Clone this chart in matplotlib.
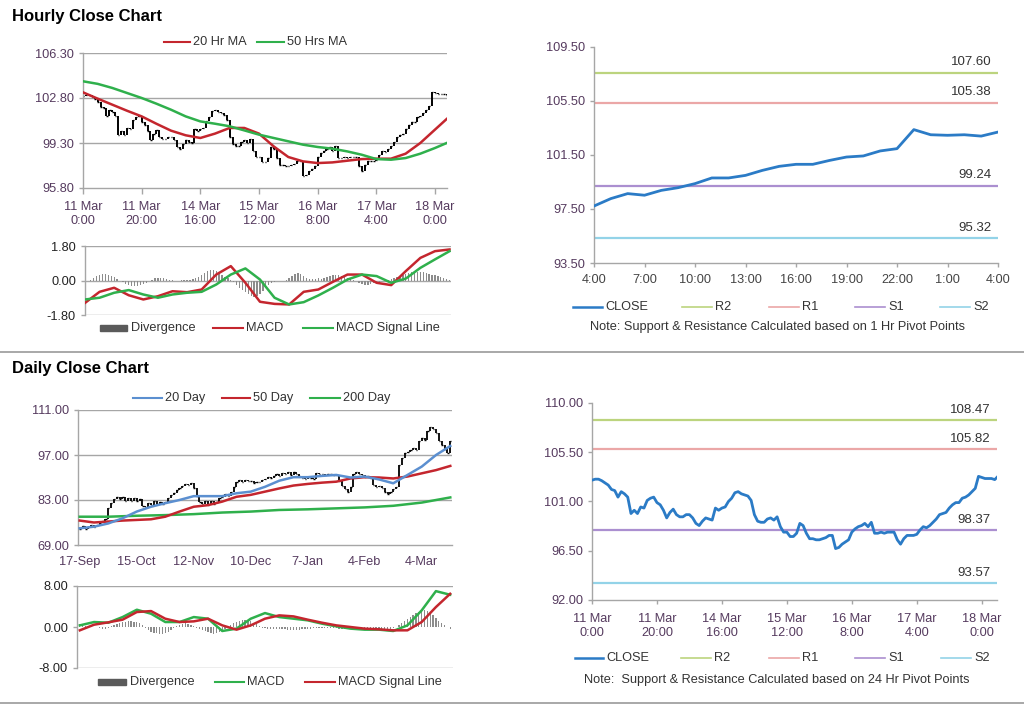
import matplotlib
matplotlib.use("Agg")
import matplotlib.pyplot as plt
import numpy as np
from matplotlib.lines import Line2D
from matplotlib.patches import Rectangle

plt.rcParams["font.family"] = ["Liberation Sans", "DejaVu Sans"]

# ── hourly data (11 Mar 0:00 .. 18 Mar) ─────────────────────────────────────
h_close = [
    102.95, 103.04, 103.04, 102.9, 102.7, 102.5, 102.1, 102.0, 101.4, 101.9,
    101.7, 101.4, 99.9, 100.2, 99.9, 100.5, 100.4, 101.1, 101.3, 101.4,
    100.9, 100.7, 100.2, 99.5, 100.0, 100.3, 99.8, 99.6, 99.6, 99.8,
    99.8, 99.5, 99.0, 98.8, 99.2, 99.5, 99.4, 99.3, 100.4, 100.2,
    100.4, 100.5, 101.0, 101.3, 101.8, 101.9, 101.7, 101.6, 101.5, 101.1,
    99.8, 99.2, 99.1, 99.1, 99.4, 99.5, 99.3, 99.6, 98.7, 98.2,
    98.2, 97.8, 97.8, 98.1, 99.0, 98.8, 98.1, 97.6, 97.6, 97.5,
    97.5, 97.6, 97.7, 97.9, 97.9, 96.7, 96.8, 97.1, 97.3, 97.5,
    98.2, 98.5, 98.7, 98.8, 99.0, 98.7, 99.1, 98.1, 98.1, 98.2,
    98.1, 98.2, 98.2, 98.2, 97.5, 97.1, 97.6, 97.9, 97.9, 97.9,
    98.0, 98.4, 98.7, 98.6, 98.8, 99.1, 99.4, 99.8, 99.9, 100.0,
    100.4, 100.7, 100.9, 100.9, 101.3, 101.4, 101.6, 101.9, 102.2, 103.3,
    103.2, 103.1, 103.1, 103.1, 103.0, 103.3,
]
h_ticks = ["11 Mar\n0:00", "11 Mar\n20:00", "14 Mar\n16:00", "15 Mar\n12:00",
           "16 Mar\n8:00", "17 Mar\n4:00", "18 Mar\n0:00"]

h_ma_x = [0, 5, 10, 15, 20, 25, 30, 35, 40, 45, 50, 55, 60, 65, 70, 75, 80,
          85, 90, 95, 100, 105, 110, 115, 120, 124]
h_ma20 = [103.24, 102.75, 102.28, 101.81, 101.37, 100.8, 100.26, 99.9, 99.69,
          100.03, 100.47, 100.47, 100.03, 99.04, 98.21, 97.87, 97.74, 97.79,
          97.92, 98.05, 98.08, 98.08, 98.47, 99.3, 100.34, 101.17]
h_ma50 = [104.1, 103.9, 103.58, 103.19, 102.8, 102.36, 101.89, 101.37, 100.98,
          100.8, 100.6, 100.28, 99.95, 99.69, 99.43, 99.17, 98.99, 98.86,
          98.65, 98.39, 98.05, 98.0, 98.13, 98.47, 98.91, 99.3]

h_macd_x = [0, 5, 10, 15, 20, 25, 30, 35, 40, 45, 50, 55, 60, 65, 70, 75, 80,
            85, 90, 95, 100, 105, 110, 115, 120, 125]
h_macd = [-1.17, -0.59, -0.38, -0.77, -0.99, -0.82, -0.56, -0.61, -0.47, 0.31,
          0.75, -0.12, -1.11, -1.22, -1.25, -0.59, -0.47, -0.07, 0.31, 0.31,
          -0.12, -0.24, 0.49, 1.18, 1.53, 1.62]
h_signal = [-0.99, -0.9, -0.64, -0.5, -0.73, -0.9, -0.73, -0.64, -0.59, -0.21,
            0.31, 0.63, 0.05, -0.9, -1.25, -1.13, -0.78, -0.38, 0.05, 0.31,
            0.23, -0.12, 0.1, 0.66, 1.1, 1.53]
h_div = [
    -0.1, -0.05, 0.05, 0.15, 0.25, 0.3, 0.35, 0.35, 0.3, 0.25,
    0.2, 0.1, 0.0, -0.1, -0.2, -0.25, -0.3, -0.3, -0.28, -0.25,
    -0.2, -0.12, -0.05, 0.05, 0.12, 0.15, 0.15, 0.12, 0.1, 0.05,
    0.02, -0.02, -0.03, 0.02, 0.03, 0.02, 0.05, 0.08, 0.12, 0.2,
    0.3, 0.4, 0.5, 0.55, 0.55, 0.5, 0.4, 0.3, 0.2, 0.12,
    0.05, -0.1, -0.25, -0.4, -0.5, -0.6, -0.7, -0.8, -0.85, -0.8,
    -0.7, -0.55, -0.4, -0.25, -0.15, -0.08, -0.05, -0.03, 0.0, 0.05,
    0.15, 0.25, 0.35, 0.4, 0.35, 0.25, 0.15, 0.1, 0.08, 0.1,
    0.12, 0.1, 0.15, 0.2, 0.25, 0.3, 0.3, 0.28, 0.25, 0.2,
    0.15, 0.1, 0.05, -0.05, -0.15, -0.2, -0.25, -0.25, -0.2, -0.15,
    -0.1, -0.08, -0.05, 0.0, 0.05, 0.1, 0.15, 0.2, 0.25, 0.3,
    0.35, 0.4, 0.42, 0.45, 0.45, 0.45, 0.42, 0.4, 0.35, 0.3,
    0.28, 0.22, 0.18, 0.12, 0.08, 0.05,
]

# ── last 24 hours + 1 Hr pivots ─────────────────────────────────────────────
p1_ticks = ["4:00", "7:00", "10:00", "13:00", "16:00", "19:00", "22:00",
            "1:00", "4:00"]
p1_close = [97.72, 98.27, 98.64, 98.52, 98.88, 99.08, 99.38, 99.8, 99.8, 99.99,
            100.36, 100.66, 100.81, 100.81, 101.1, 101.35, 101.43, 101.8,
            101.97, 103.38, 103.0, 102.96, 103.0, 102.9, 103.2]
p1_levels = {"R2": 107.60, "R1": 105.38, "S1": 99.24, "S2": 95.32}

# 24 Hr pivots for the hourly close
p24_levels = {"R2": 108.47, "R1": 105.82, "S1": 98.37, "S2": 93.57}

# ── daily data (17-Sep .. 18-Mar) ───────────────────────────────────────────
d_close = [
    74.0, 74.8, 73.9, 74.5, 75.2, 74.6, 75.3, 75.8,
    76.5, 77.0, 80.5,
    82.0, 83.3, 84.0, 83.2,
    83.8, 82.6, 83.5, 82.8, 83.6, 82.7, 83.4,
    81.2, 80.8,
    82.0, 81.5, 82.6, 81.8, 82.3, 81.7, 82.4,
    83.5, 84.6, 85.2,
    86.0, 86.8, 87.4,
    88.0, 87.6, 88.3, 86.6,
    84.2, 82.5, 81.8,
    82.6, 81.6, 82.8, 81.9, 82.4,
    83.5, 84.0, 84.8, 84.3, 85.5, 87.0,
    88.5, 89.3,
    88.6, 89.2, 88.8, 89.0, 88.4, 88.7, 88.5, 89.1, 89.6,
    90.2, 89.8, 90.4, 91.0, 90.6,
    91.4, 91.0, 91.6, 90.8, 91.7, 91.2, 90.5,
    90.0, 89.5, 90.3, 89.8, 89.6, 91.5,
    91.2, 91.0, 90.8, 91.2, 91.0, 90.7, 90.9,
    89.0, 87.5, 86.5, 85.5, 87.2,
    91.0, 91.8, 91.2,
    90.8, 90.2, 90.5, 90.0,
    87.6, 87.0, 87.5, 86.6,
    85.5, 85.0, 85.6,
    86.4, 87.0, 94.0,
    96.0, 97.5, 98.0,
    98.5, 99.2, 98.6,
    101.5, 102.3, 101.8,
    104.5, 105.8, 105.2,
    104.0, 101.5, 100.2,
    99.0, 97.5, 101.5,
]
d_ticks = ["17-Sep", "15-Oct", "12-Nov", "10-Dec", "7-Jan", "4-Feb", "4-Mar"]

d_ma_x = [0, 5, 10, 15, 20, 25, 30, 35, 40, 45, 50, 55, 60, 65, 70, 75, 80,
          85, 90, 95, 100, 105, 110, 115, 120, 125, 130]
d_ma20 = [74.2, 74.7, 75.7, 77.3, 79.4, 80.9, 82.0, 83.0, 84.2, 84.2, 84.2,
          85.1, 85.6, 87.1, 89.0, 90.1, 90.1, 90.5, 90.8, 90.0, 90.3, 89.4,
          88.2, 90.8, 93.4, 97.0, 99.8]
d_ma50 = [76.6, 76.0, 76.3, 76.6, 76.8, 77.0, 77.8, 79.4, 80.9, 81.4, 82.5,
          84.0, 84.6, 85.6, 86.6, 87.5, 88.0, 88.4, 88.7, 89.7, 90.1, 90.0,
          89.7, 90.3, 91.3, 92.3, 93.6]
d_ma200_x = [0, 10, 20, 30, 40, 50, 60, 70, 80, 90, 100, 110, 120, 130]
d_ma200 = [77.8, 77.8, 78.1, 78.3, 78.6, 79.1, 79.4, 79.9, 80.1, 80.4, 80.7,
           81.2, 82.2, 83.8]

d_macd = [0.32, 0.97, 0.84, 1.94, 3.37, 2.59, 0.97, 0.97, 1.94, 1.62, -0.78,
          -0.32, 1.62, 2.72, 1.94, 1.62, 1.30, 0.65, 0.13, -0.32, -0.52,
          -0.52, -0.78, 0.32, 3.24, 7.0, 6.29]
d_signal = [-0.65, 0.45, 0.91, 1.43, 2.92, 3.11, 1.62, 0.97, 1.1, 1.62, 0.32,
            -0.52, 0.32, 1.62, 2.27, 2.07, 1.43, 0.84, 0.32, 0.0, -0.32,
            -0.45, -0.65, -0.65, 0.97, 3.89, 6.48]
d_div = [
    0.5, 0.3, 0.2, 0.1, 0.1, 0.0,
    0.0, -0.2, -0.3, -0.3, -0.2, 0.1, 0.3,
    0.5, 0.7, 0.9, 1.0, 1.1, 1.1, 1.0, 0.9, 0.7, 0.4,
    -0.2, -0.6, -0.9, -1.1, -1.2, -1.3, -1.3, -1.2, -0.9, -0.6, -0.2,
    0.2, 0.4, 0.6, 0.7, 0.6, 0.4, 0.2,
    -0.2, -0.4, -0.6, -0.8, -1.0, -1.2, -1.3, -1.2, -0.9, -0.6, -0.3, 0.1,
    0.4, 0.7, 0.9, 1.1, 1.3, 1.4, 1.3, 1.1, 0.8, 0.5, 0.2,
    -0.1, -0.2, -0.3, -0.3, -0.4, -0.4, -0.4, -0.4, -0.4, -0.5, -0.5, -0.5,
    -0.5, -0.5, -0.4, -0.4, -0.3, -0.3, -0.2, -0.2, -0.2, -0.1, -0.1, -0.1,
    -0.2, -0.2, -0.2,
    -0.3, -0.3, -0.4, -0.4, -0.4, -0.3, -0.3, -0.3, -0.3, -0.4, -0.4, -0.4,
    -0.3, -0.3, -0.3, -0.4, -0.5, -0.5, -0.4, -0.2,
    0.0, 0.4, 0.8, 1.2, 1.6, 2.0, 2.4, 2.7, 3.0, 3.2, 3.3, 3.2, 2.9, 2.4,
    1.8, 1.2, 0.7, 0.3, 0.0, -0.3,
]

# ── colours ─────────────────────────────────────────────────────────────────
RED = "#c4262e"
GREEN = "#2fb04c"
BLUE_MA = "#5b8fd0"
BLUE = "#2b7bc6"
LEVEL_COLORS = {"R2": "#bcd47e", "R1": "#eba7a7", "S1": "#ab8fd0", "S2": "#93d3e8"}
GRID = "#a6a6a6"
TICK = "#553a5e"
TXT = "#333333"
FS = 9.2

W, H = 1024, 706
fig = plt.figure(figsize=(W / 100, H / 100), dpi=100)


def px_axes(l, t, r, b):
    return fig.add_axes([l / W, 1 - b / H, (r - l) / W, (b - t) / H])


def fy(y):
    return 1 - y / H


def line_key(x0, x1, y, color, text, lw=1.5):
    fig.add_artist(Line2D([x0 / W, x1 / W], [fy(y), fy(y)], color=color,
                          lw=lw, transform=fig.transFigure))
    fig.text((x1 + 3) / W, fy(y), text, ha="left", va="center",
             fontsize=FS, color=TXT)


def patch_key(x0, x1, y, text):
    fig.add_artist(Rectangle((x0 / W, fy(y) - 3 / H), (x1 - x0) / W, 6 / H,
                             color="#5a5a5a", transform=fig.transFigure))
    fig.text((x1 + 4) / W, fy(y), text, ha="left", va="center",
             fontsize=FS, color=TXT)


def style(ax, grid_vals=None):
    for s in ("top", "right"):
        ax.spines[s].set_visible(False)
    for s in ("left", "bottom"):
        ax.spines[s].set_color(GRID)
        ax.spines[s].set_linewidth(1.0)
    ax.tick_params(axis="both", colors=GRID, labelcolor=TICK, labelsize=FS,
                   length=3, width=1.0)
    if grid_vals is not None:
        for v in grid_vals:
            ax.axhline(v, color=GRID, lw=1.0, zorder=0)
    ax.yaxis.set_major_formatter(matplotlib.ticker.FormatStrFormatter("%.2f"))


def ohlc(ax, close, lw=1.4):
    close = np.asarray(close)
    x = np.arange(len(close))
    opens = np.r_[close[0], close[:-1]]
    ax.vlines(x, np.minimum(opens, close), np.maximum(opens, close),
              color="black", lw=lw, zorder=2)
    ax.hlines(close, x - 0.1, x + 0.4, color="black", lw=1.0, zorder=2)


# ── titles and separators ───────────────────────────────────────────────────
fig.text(12 / W, fy(16), "Hourly Close Chart", fontsize=12, fontweight="bold",
         ha="left", va="center", color="black")
fig.text(12 / W, fy(369), "Daily Close Chart", fontsize=12, fontweight="bold",
         ha="left", va="center", color="black")
for yy in (352, 703):
    fig.add_artist(Line2D([0, 1], [fy(yy), fy(yy)], color="#9a9a9a", lw=1.2,
                          transform=fig.transFigure))

# ── hourly price ────────────────────────────────────────────────────────────
ax = px_axes(83, 53, 447, 188)
style(ax, [99.3, 102.8, 106.3])
ohlc(ax, h_close)
ax.plot(h_ma_x, h_ma20, color=RED, lw=1.8, zorder=3)
ax.plot(h_ma_x, h_ma50, color=GREEN, lw=1.8, zorder=3)
ax.set_xlim(0, 124.1)
ax.set_ylim(95.8, 106.3)
ax.set_yticks([95.8, 99.3, 102.8, 106.3])
ax.set_xticks(np.arange(len(h_ticks)) * 20)
ax.set_xticklabels(h_ticks, linespacing=1.3)
ax.tick_params(axis="x", length=4, pad=5)
line_key(164, 190, 42, RED, "20 Hr MA")
line_key(257, 284, 42, GREEN, "50 Hrs MA")

# ── hourly MACD ─────────────────────────────────────────────────────────────
ax = px_axes(85, 246, 451, 315)
style(ax, [-1.8, 0.0, 1.8])
ax.bar(np.arange(len(h_div)), h_div, width=0.45, color="#8c8c8c", zorder=1)
ax.plot(h_macd_x, h_macd, color=RED, lw=1.8, zorder=3)
ax.plot(h_macd_x, h_signal, color=GREEN, lw=1.8, zorder=3)
ax.set_xlim(0, 125.5)
ax.set_ylim(-1.8, 1.8)
ax.set_yticks([-1.8, 0.0, 1.8])
ax.set_xticks([])
ax.spines["bottom"].set_visible(False)
ax.tick_params(axis="y", labelcolor="#222222")
patch_key(100, 127, 328, "Divergence")
line_key(213, 243, 328, RED, "MACD")
line_key(303, 333, 328, GREEN, "MACD Signal Line")

# ── 1 Hr pivot chart ────────────────────────────────────────────────────────
ax = px_axes(594, 47, 998, 263)
style(ax)
for name, v in p1_levels.items():
    ax.axhline(v, color=LEVEL_COLORS[name], lw=1.6, zorder=1)
    ax.annotate(f"{v:.2f}", xy=(0.985, v), xycoords=("axes fraction", "data"),
                xytext=(0, 3), textcoords="offset points", ha="right",
                va="bottom", fontsize=9.5, color=TXT)
ax.plot(np.arange(len(p1_close)), p1_close, color=BLUE, lw=2.0, zorder=3)
ax.set_xlim(0, 24)
ax.set_ylim(93.5, 109.5)
ax.set_yticks([93.5, 97.5, 101.5, 105.5, 109.5])
ax.set_xticks(np.arange(len(p1_ticks)) * 3)
ax.set_xticklabels(p1_ticks)
ax.tick_params(axis="x", labelcolor="#444444", pad=5)
line_key(573, 602, 307, BLUE, "CLOSE", lw=1.8)
for name, x0 in zip(["R2", "R1", "S1", "S2"], [682, 769, 855, 940]):
    line_key(x0, x0 + 30, 307, LEVEL_COLORS[name], name, lw=1.2)
fig.text(777 / W, fy(327), "Note: Support & Resistance Calculated based on 1 Hr Pivot Points",
         ha="center", va="center", fontsize=FS, color=TXT)

# ── daily price ─────────────────────────────────────────────────────────────
ax = px_axes(78, 410, 452, 545)
style(ax, [83, 97, 111])
ohlc(ax, d_close, lw=1.3)
ax.plot(d_ma200_x, d_ma200, color=GREEN, lw=1.8, zorder=3)
ax.plot(d_ma_x, d_ma50, color=RED, lw=1.8, zorder=3)
ax.plot(d_ma_x, d_ma20, color=BLUE_MA, lw=1.8, zorder=3)
ax.set_xlim(-0.6, 130.6)
ax.set_ylim(69, 111)
ax.set_yticks([69, 83, 97, 111])
ax.set_xticks(np.arange(len(d_ticks)) * 20)
ax.set_xticklabels(d_ticks)
ax.tick_params(axis="x", length=0, pad=8)
line_key(133, 162, 398, BLUE_MA, "20 Day")
line_key(222, 250, 398, RED, "50 Day")
line_key(310, 340, 398, GREEN, "200 Day")

# ── daily MACD ──────────────────────────────────────────────────────────────
ax = px_axes(77, 586, 453, 668)
style(ax, [-8, 8])
ax.bar(np.arange(len(d_div)), d_div, width=0.45, color="#8c8c8c", zorder=1)
ax.plot(d_ma_x, d_macd, color=GREEN, lw=1.8, zorder=3)
ax.plot(d_ma_x, d_signal, color=RED, lw=1.8, zorder=3)
ax.set_xlim(-1, 131)
ax.set_ylim(-8, 8)
ax.set_yticks([-8, 0, 8])
ax.set_xticks([])
ax.spines["bottom"].set_visible(False)
ax.tick_params(axis="y", labelcolor="#222222")
patch_key(98, 126, 682, "Divergence")
line_key(215, 244, 682, GREEN, "MACD")
line_key(305, 335, 682, RED, "MACD Signal Line")

# ── 24 Hr pivot chart ───────────────────────────────────────────────────────
ax = px_axes(592, 403, 997, 600)
style(ax)
for name, v in p24_levels.items():
    ax.axhline(v, color=LEVEL_COLORS[name], lw=1.6, zorder=1)
    ax.annotate(f"{v:.2f}", xy=(0.985, v), xycoords=("axes fraction", "data"),
                xytext=(0, 3), textcoords="offset points", ha="right",
                va="bottom", fontsize=9.5, color=TXT)
ax.plot(np.arange(len(h_close)), h_close, color=BLUE, lw=2.0, zorder=3)
ax.set_xlim(0, 124.7)
ax.set_ylim(92, 110)
ax.set_yticks([92, 96.5, 101, 105.5, 110])
ax.set_xticks(np.arange(len(h_ticks)) * 20)
ax.set_xticklabels(h_ticks, linespacing=1.3)
ax.tick_params(axis="x", pad=6)
line_key(575, 603, 658, BLUE, "CLOSE", lw=1.8)
for name, x0 in zip(["R2", "R1", "S1", "S2"], [681, 769, 855, 941]):
    line_key(x0, x0 + 30, 658, LEVEL_COLORS[name], name, lw=1.2)
fig.text(777 / W, fy(680), "Note:  Support & Resistance Calculated based on 24 Hr Pivot Points",
         ha="center", va="center", fontsize=FS, color=TXT)

fig.savefig("out.png", dpi=100, facecolor="white")
